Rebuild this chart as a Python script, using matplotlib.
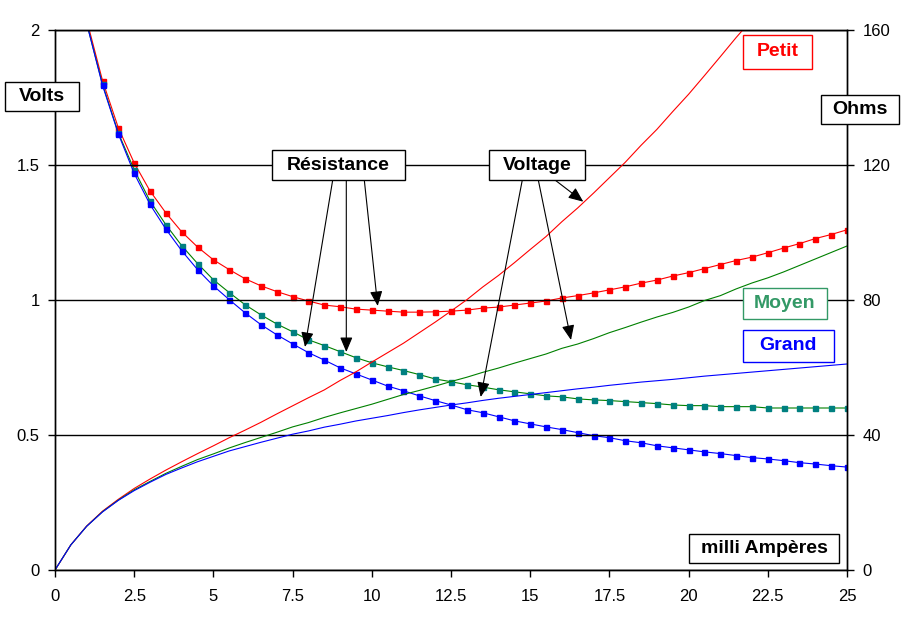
import matplotlib
matplotlib.use('Agg')
import matplotlib.pyplot as plt
from matplotlib.patches import Rectangle

plt.rcParams['font.family'] = ['Liberation Sans', 'DejaVu Sans']

# courant en mA (pas de 0.5)
courant = [i * 0.5 for i in range(51)]
courant_r = courant[2:]  # résistance à partir de 1 mA

# tension (Volts)
v_petit = [0, 0.093, 0.163, 0.218, 0.262, 0.302, 0.337, 0.370, 0.401, 0.431,
           0.460, 0.490, 0.518, 0.547, 0.578, 0.608, 0.638, 0.667, 0.702, 0.734,
           0.770, 0.805, 0.840, 0.879, 0.918, 0.959, 1.001, 1.048, 1.091, 1.138,
           1.187, 1.235, 1.290, 1.341, 1.396, 1.453, 1.510, 1.573, 1.632, 1.698,
           1.762, 1.831, 1.901, 1.972, 2.039, 2.115, 2.194, 2.272, 2.357, 2.435,
           2.520]
v_moyen = [0, 0.093, 0.162, 0.216, 0.259, 0.297, 0.328, 0.358, 0.384, 0.409,
           0.430, 0.452, 0.472, 0.491, 0.510, 0.530, 0.546, 0.565, 0.582, 0.598,
           0.614, 0.632, 0.650, 0.665, 0.681, 0.698, 0.714, 0.732, 0.748, 0.766,
           0.783, 0.800, 0.821, 0.837, 0.857, 0.879, 0.898, 0.918, 0.937, 0.954,
           0.974, 0.998, 1.016, 1.041, 1.063, 1.082, 1.104, 1.128, 1.152, 1.176,
           1.200]
v_grand = [0, 0.093, 0.162, 0.215, 0.258, 0.294, 0.325, 0.354, 0.378, 0.401,
           0.421, 0.441, 0.457, 0.473, 0.488, 0.503, 0.515, 0.529, 0.540, 0.552,
           0.562, 0.572, 0.583, 0.593, 0.602, 0.611, 0.619, 0.628, 0.636, 0.643,
           0.650, 0.657, 0.664, 0.671, 0.677, 0.684, 0.690, 0.696, 0.701, 0.706,
           0.712, 0.718, 0.723, 0.728, 0.733, 0.738, 0.743, 0.748, 0.753, 0.758,
           0.763]

# résistance (Ohms)
r_petit = [163, 145, 131, 120.6, 112.3, 105.8, 100.2, 95.7, 91.9, 89.0,
           86.3, 84.2, 82.5, 81.0, 79.7, 78.5, 78.0, 77.3, 77.0, 76.7,
           76.4, 76.4, 76.5, 76.7, 77.0, 77.6, 77.9, 78.5, 79.1, 79.7,
           80.6, 81.3, 82.1, 83.0, 83.9, 85.0, 85.9, 87.1, 88.1, 89.3,
           90.5, 91.7, 92.7, 94.0, 95.4, 96.7, 98.2, 99.4, 100.8]
r_moyen = [162, 143.9, 129.5, 118.6, 109.3, 102.3, 96.1, 90.8, 86.0, 82.2,
           78.6, 75.6, 72.9, 70.6, 68.2, 66.5, 64.7, 62.9, 61.4, 60.2,
           59.1, 57.9, 56.6, 55.8, 54.9, 54.2, 53.4, 52.8, 52.2, 51.6,
           51.3, 50.7, 50.4, 50.2, 49.9, 49.6, 49.3, 48.9, 48.7, 48.7,
           48.4, 48.4, 48.4, 48.0, 48.0, 48.0, 48.0, 48.0, 48.0]
r_grand = [162, 143.6, 129.2, 117.5, 108.3, 101.0, 94.6, 89.0, 84.2, 80.1,
           76.2, 72.7, 69.7, 67.0, 64.4, 62.2, 59.9, 58.1, 56.3, 54.5,
           53.1, 51.6, 50.2, 48.9, 47.5, 46.6, 45.4, 44.2, 43.3, 42.4,
           41.6, 40.7, 39.8, 39.2, 38.3, 37.7, 36.8, 36.2, 35.6, 35.0,
           34.5, 33.9, 33.3, 32.9, 32.4, 31.8, 31.4, 30.9, 30.5]

x_ticks = [0, 2.5, 5, 7.5, 10, 12.5, 15, 17.5, 20, 22.5, 25]
x_labels = ['0', '2.5', '5', '7.5', '10', '12.5', '15', '17.5', '20', '22.5', '25']
v_ticks = [0, 0.5, 1, 1.5, 2]
v_labels = ['0', '0.5', '1', '1.5', '2']
r_ticks = [0, 40, 80, 120, 160]

W, H = 904, 626
fig = plt.figure(figsize=(W / 100, H / 100), dpi=100)
ax = fig.add_axes([55 / W, (H - 570) / H, 792 / W, 540 / H])
ax2 = ax.twinx()

lw = 0.8
ax.plot(courant, v_petit, color='#FF0000', lw=lw)
ax.plot(courant, v_moyen, color='#008000', lw=lw)
ax.plot(courant, v_grand, color='#0000FF', lw=lw)

ms = 3.6
ax2.plot(courant_r, r_petit, color='#FF0000', lw=lw, marker='s', ms=ms, mec='#FF0000', mfc='#FF0000')
ax2.plot(courant_r, r_moyen, color='#008000', lw=lw, marker='s', ms=ms, mec='#008080', mfc='#008080')
ax2.plot(courant_r, r_grand, color='#0000FF', lw=lw, marker='s', ms=ms, mec='#0000FF', mfc='#0000FF')

ax.set_xlim(0, 25)
ax.set_ylim(0, 2)
ax2.set_ylim(0, 160)
ax.set_xticks(x_ticks)
ax.set_xticklabels(x_labels)
ax.set_yticks(v_ticks)
ax.set_yticklabels(v_labels)
ax2.set_yticks(r_ticks)
for a in (ax, ax2):
    a.tick_params(labelsize=12, length=5, width=1, color='black', pad=6)
    for s in a.spines.values():
        s.set_linewidth(1)
ax.tick_params(axis='x', pad=9)
ax.yaxis.grid(True, color='black', lw=1)
ax.set_axisbelow(True)


def boite(x0, y0, x1, y1, texte, couleur='black', bord='black'):
    # cadre en pixels (origine en haut à gauche)
    fig.add_artist(Rectangle((x0 / W, 1 - y1 / H), (x1 - x0) / W, (y1 - y0) / H,
                             transform=fig.transFigure, fc='white', ec=bord,
                             lw=1, zorder=20))
    fig.text((x0 + x1) / 2 / W, 1 - (y0 + y1) / 2 / H, texte, ha='center',
             va='center', fontsize=14, fontweight='bold', color=couleur,
             zorder=21)


boite(5, 82, 79, 111, 'Volts')
boite(821, 95, 899, 124, 'Ohms')
boite(743, 35, 812, 69, 'Petit', '#FF0000', '#FF0000')
boite(743, 288, 827, 319, 'Moyen', '#339966', '#339966')
boite(743, 330, 834, 362, 'Grand', '#0000FF', '#0000FF')
boite(689, 534, 839, 563, 'milli Ampères')
boite(272, 150, 405, 180, 'Résistance')
boite(489, 150, 585, 180, 'Voltage')


def px2data(px, py):
    return ((px - 55) / 31.68, (570 - py) / 270)


fleches = [
    ((332.7, 180), (305, 347)),
    ((346.3, 180), (346.3, 352)),
    ((364.3, 180), (377.7, 306)),
    ((522.3, 180), (480.7, 397)),
    ((538.3, 180), (571, 340)),
    ((555, 180), (583.3, 201.7)),
]
for queue, pointe in fleches:
    ax.annotate('', xy=px2data(*pointe), xytext=px2data(*queue),
                xycoords='data', textcoords='data', annotation_clip=False,
                arrowprops=dict(arrowstyle='-|>,head_length=0.9,head_width=0.38',
                                color='black', lw=0.8, shrinkA=0, shrinkB=0))
# flèches au-dessus des courbes
ax2.set_zorder(1)
ax.set_zorder(2)
ax.patch.set_visible(False)
ax2.patch.set_visible(False)

fig.savefig('out.png', dpi=100)
